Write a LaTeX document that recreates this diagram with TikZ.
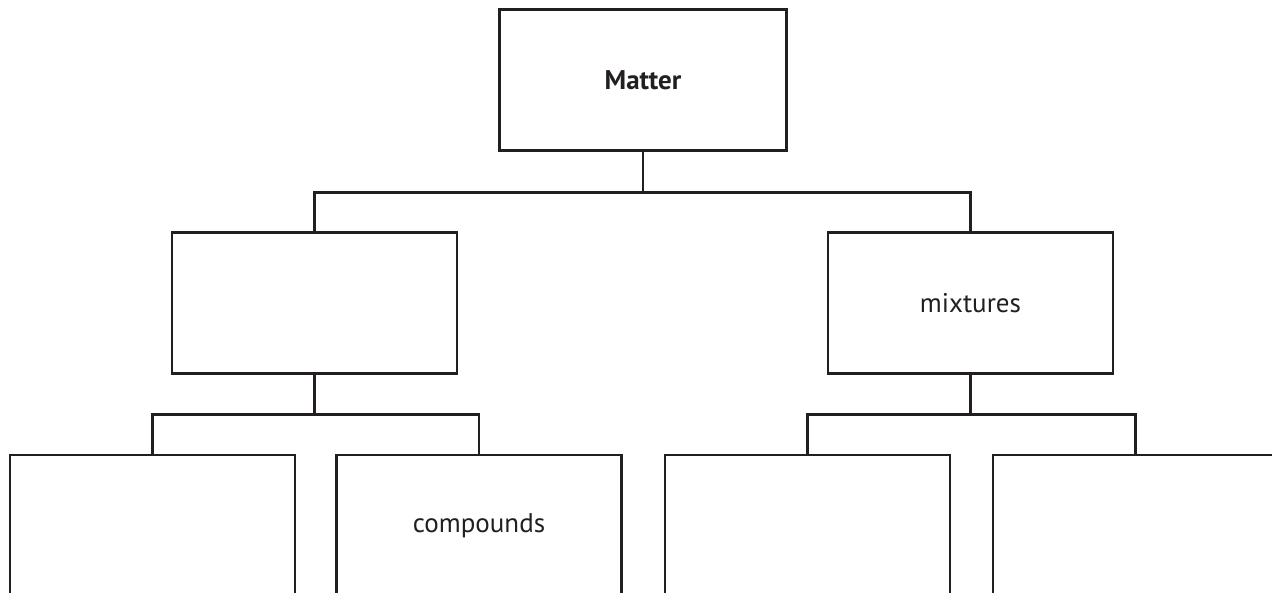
\documentclass[tikz,border=0pt]{standalone}
\usepackage{fontspec}
\setmainfont{PT Sans}
\definecolor{ink}{HTML}{231F20}
\begin{document}
\begin{tikzpicture}[x=1pt,y=1pt,
  box/.style={draw=ink, line width=2.8pt, rectangle, inner sep=0pt,
    minimum width=285pt, minimum height=141pt, text=ink,
    font=\fontsize{27}{30}\selectfont},
  link/.style={draw=ink, line width=2.8pt}]
\useasboundingbox (0,0) rectangle (1272,-593);
\clip (0,0) rectangle (1272,-593);
% top level
\node[box, minimum width=287pt] (matter) at (643,-80) {\textbf{Matter}};
% second level
\node[box] (left) at (314.5,-303) {};
\node[box] (mix) at (970.5,-303) {mixtures};
% third level, running off the lower edge
\node[box] (l1) at (152.5,-525.5) {};
\node[box] (l2) at (479,-525.5) {compounds};
\node[box] (r1) at (807.5,-525.5) {};
\node[box] (r2) at (1135.5,-525.5) {};
% connectors
\draw[link] (matter.south) -- ++(0,-41) -| (left.north);
\draw[link] (matter.south) -- ++(0,-41) -| (mix.north);
\draw[link] (left.south) -- ++(0,-40) -| (l1.north);
\draw[link] (left.south) -- ++(0,-40) -| (l2.north);
\draw[link] (mix.south) -- ++(0,-40) -| (r1.north);
\draw[link] (mix.south) -- ++(0,-40) -| (r2.north);
\end{tikzpicture}
\end{document}
